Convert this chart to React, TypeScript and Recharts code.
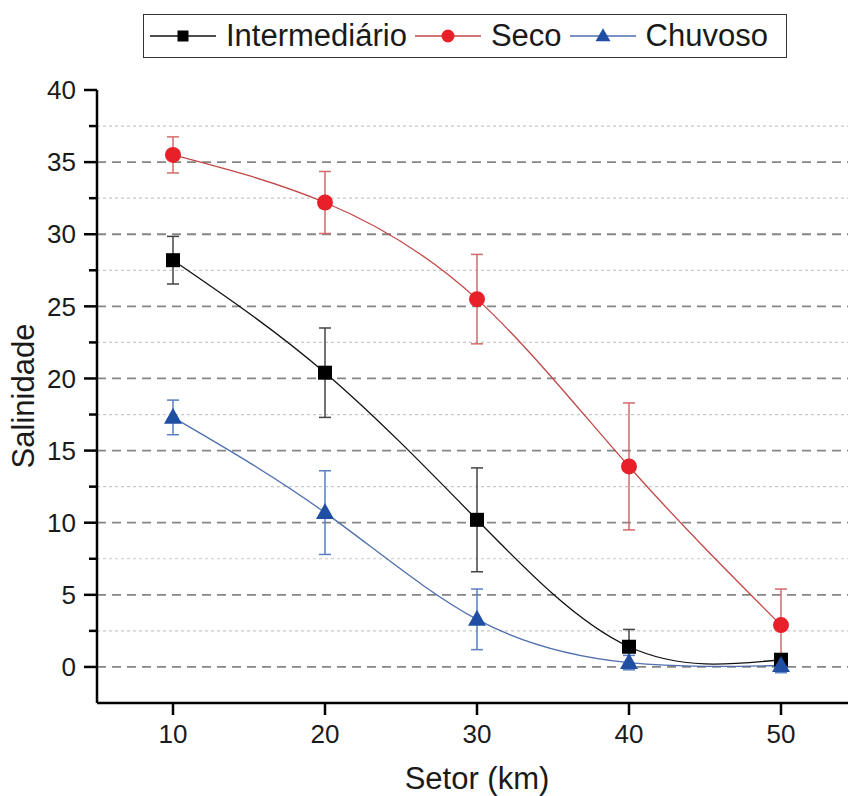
import React from 'react';
import { LineChart, Line, XAxis, YAxis, CartesianGrid, ErrorBar, Legend } from 'recharts';

const setor = [10, 20, 30, 40, 50];
const intermediario = [28.2, 20.4, 10.2, 1.4, 0.5];
const intermediarioErr = [1.65, 3.1, 3.6, 1.2, 0.3];
const seco = [35.5, 32.2, 25.5, 13.9, 2.9];
const secoErr = [1.25, 2.15, 3.1, 4.4, 2.5];
const chuvoso = [17.3, 10.7, 3.3, 0.3, 0.1];
const chuvosoErr = [1.2, 2.9, 2.1, 0.5, 0.5];

const xTicks = [10, 20, 30, 40, 50];
const yTicks = [0, 2.5, 5, 7.5, 10, 12.5, 15, 17.5, 20, 22.5, 25, 27.5, 30, 32.5, 35, 37.5, 40];
const yLabels = [0, 5, 10, 15, 20, 25, 30, 35, 40];
const majorGrid = [0, 5, 10, 15, 20, 25, 30, 35];
const minorGrid = [2.5, 7.5, 12.5, 17.5, 22.5, 27.5, 32.5, 37.5];

const data = setor.map((s, i) => ({
  setor: s,
  inter: intermediario[i],
  interErr: intermediarioErr[i],
  seco: seco[i],
  secoErr: secoErr[i],
  chuv: chuvoso[i],
  chuvErr: chuvosoErr[i],
}));

const FONT = '"Liberation Sans", Arial, sans-serif';
const Y_TICK = 13;
const Y_MARGIN = 8;

const BLACK = '#000000';
const TEXT = '#1a1a1a';
const RED = '#e8202a';
const RED_LINE = '#c24848';
const RED_ERR = '#d46a6a';
const BLUE = '#1f4ea3';
const BLUE_LINE = '#4f6fae';
const BLUE_ERR = '#5a7fc2';

const Square = ({ cx, cy, s = 14 }: any) => (
  <rect x={cx - s / 2} y={cy - s / 2} width={s} height={s} fill={BLACK} />
);
const Circle = ({ cx, cy, r = 8 }: any) => <circle cx={cx} cy={cy} r={r} fill={RED} />;
const Triangle = ({ cx, cy, w = 18, h = 16 }: any) => (
  <polygon
    points={`${cx},${cy - h * 0.6} ${cx - w / 2},${cy + h * 0.4} ${cx + w / 2},${cy + h * 0.4}`}
    fill={BLUE}
  />
);

const YTick = (props: any) => {
  const { x, y, payload } = props;
  const axisX = x + Y_TICK + Y_MARGIN;
  const major = yLabels.includes(payload.value);
  return (
    <g>
      <line x1={axisX - (major ? Y_TICK : 8)} x2={axisX} y1={y} y2={y} stroke={BLACK} strokeWidth={2.5} />
      {major && (
        <text x={x} y={y} dy="0.355em" textAnchor="end" fontSize={26} fontFamily={FONT} fill={TEXT}>
          {payload.value}
        </text>
      )}
    </g>
  );
};

const legendItems = [
  { name: 'Intermediário', line: '#111', marker: (cx: number, cy: number) => <Square cx={cx} cy={cy} s={11} /> },
  { name: 'Seco', line: RED_LINE, marker: (cx: number, cy: number) => <Circle cx={cx} cy={cy} r={6.5} /> },
  { name: 'Chuvoso', line: BLUE_LINE, marker: (cx: number, cy: number) => <Triangle cx={cx} cy={cy} w={15} h={13} /> },
];

const renderLegend = () => (
  <div
    style={{
      display: 'flex',
      alignItems: 'center',
      boxSizing: 'border-box',
      width: 644,
      height: 44,
      border: '1.5px solid #333',
      paddingLeft: 6,
      fontFamily: FONT,
      fontSize: 31,
      color: TEXT,
      background: '#fff',
    }}
  >
    {legendItems.map((it) => (
      <div key={it.name} style={{ display: 'flex', alignItems: 'center', marginRight: 8 }}>
        <svg width={66} height={20}>
          <line x1={0} x2={66} y1={10} y2={10} stroke={it.line} strokeWidth={1.5} />
          {it.marker(33, 10)}
        </svg>
        <span style={{ marginLeft: 10, lineHeight: '40px' }}>{it.name}</span>
      </div>
    ))}
  </div>
);

export default function App() {
  return (
    <div style={{ position: 'absolute', left: 0, top: 0, width: 848, height: 796, overflow: 'hidden', background: '#fff' }}>
      <LineChart width={860} height={796} data={data} margin={{ top: 90, right: 3, bottom: 0, left: 0 }}>
        <CartesianGrid vertical={false} horizontalValues={minorGrid} stroke="#c8c8c8" strokeWidth={1.2} strokeDasharray="3 3" />
        <CartesianGrid vertical={false} horizontalValues={majorGrid} stroke="#858585" strokeWidth={1.8} strokeDasharray="9 6" />
        <XAxis
          type="number"
          dataKey="setor"
          domain={[5, 55]}
          ticks={xTicks}
          height={93}
          tickSize={12}
          tickMargin={10}
          axisLine={{ stroke: BLACK, strokeWidth: 2.5 }}
          tickLine={{ stroke: BLACK, strokeWidth: 2.5 }}
          tick={{ fontSize: 26, fontFamily: FONT, fill: TEXT }}
          label={{ value: 'Setor (km)', position: 'insideBottom', offset: 7, fontSize: 31, fontFamily: FONT, fill: TEXT }}
        />
        <YAxis
          type="number"
          domain={[-2.5, 40]}
          ticks={yTicks}
          width={97}
          tickSize={Y_TICK}
          tickMargin={Y_MARGIN}
          interval={0}
          axisLine={{ stroke: BLACK, strokeWidth: 2.5 }}
          tickLine={false}
          tick={<YTick />}
          label={{
            content: () => (
              <text x={34} y={396} transform="rotate(-90, 34, 396)" textAnchor="middle" fontSize={31} fontFamily={FONT} fill={TEXT}>
                Salinidade
              </text>
            ),
          }}
        />
        <Legend
          layout="horizontal"
          verticalAlign="middle"
          align="center"
          content={renderLegend}
          wrapperStyle={{ position: 'absolute', top: 14, left: 143, width: 644, height: 44 }}
        />
        <Line
          type="natural"
          dataKey="inter"
          name="Intermediário"
          stroke="#111"
          strokeWidth={1.3}
          dot={(p: any) => <Square key={`i${p.index}`} cx={p.cx} cy={p.cy} />}
          isAnimationActive={false}
        >
          <ErrorBar dataKey="interErr" direction="y" width={6} stroke="#444" strokeWidth={1.5} />
        </Line>
        <Line
          type="natural"
          dataKey="seco"
          name="Seco"
          stroke={RED_LINE}
          strokeWidth={1.3}
          dot={(p: any) => <Circle key={`s${p.index}`} cx={p.cx} cy={p.cy} />}
          isAnimationActive={false}
        >
          <ErrorBar dataKey="secoErr" direction="y" width={6} stroke={RED_ERR} strokeWidth={1.5} />
        </Line>
        <Line
          type="natural"
          dataKey="chuv"
          name="Chuvoso"
          stroke={BLUE_LINE}
          strokeWidth={1.3}
          dot={(p: any) => <Triangle key={`c${p.index}`} cx={p.cx} cy={p.cy} />}
          isAnimationActive={false}
        >
          <ErrorBar dataKey="chuvErr" direction="y" width={6} stroke={BLUE_ERR} strokeWidth={1.5} />
        </Line>
      </LineChart>
    </div>
  );
}
